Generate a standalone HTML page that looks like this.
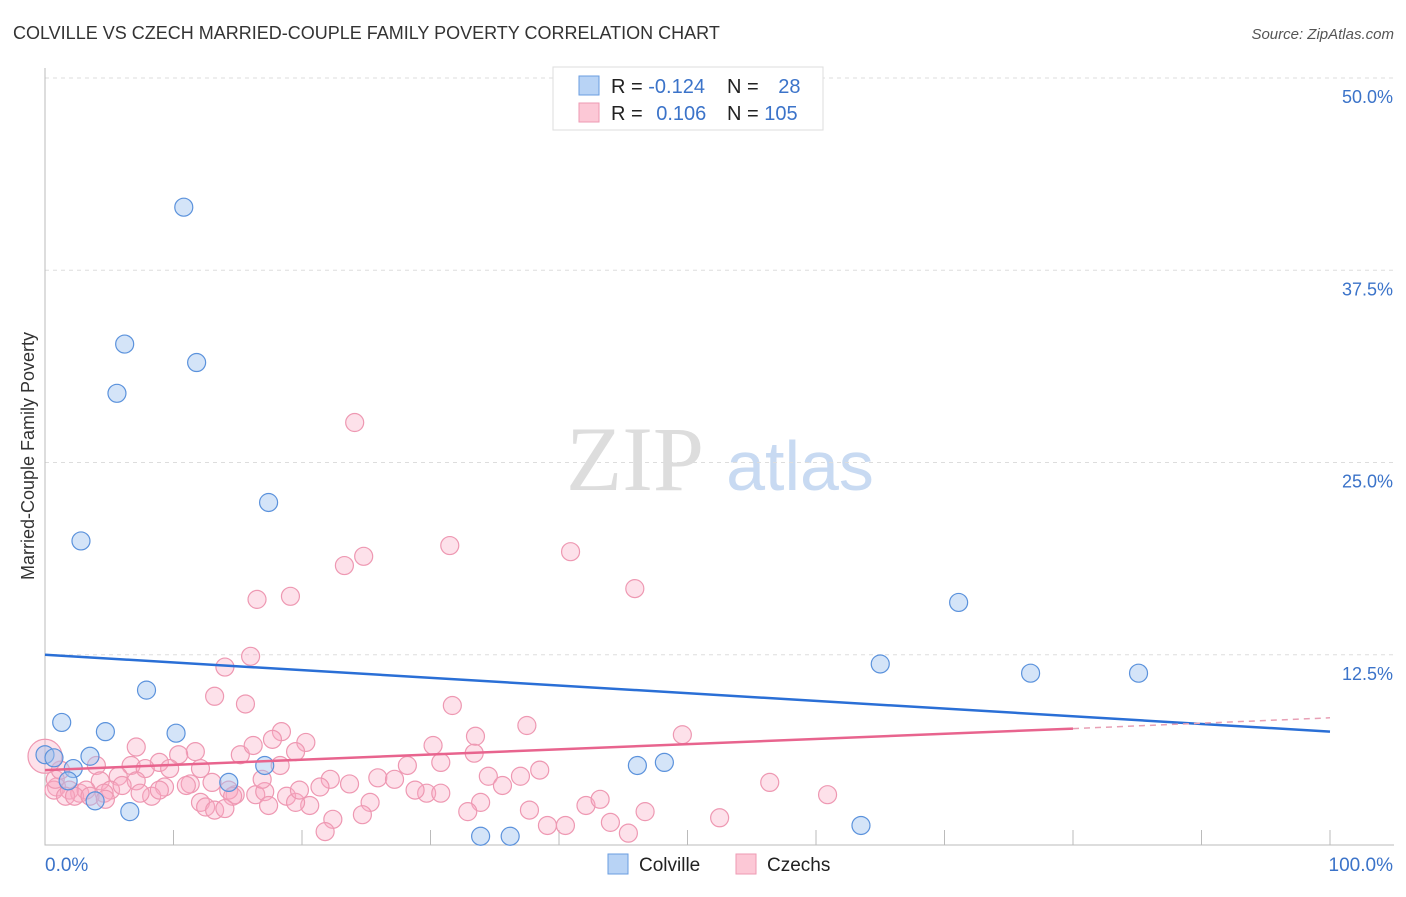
<!DOCTYPE html>
<html><head><meta charset="utf-8"><style>
body{margin:0;background:#fff;font-family:"Liberation Sans",sans-serif}
</style></head><body>
<svg width="1406" height="892" xmlns="http://www.w3.org/2000/svg" id="c">
<text x="13" y="39" font-size="18" fill="#333">COLVILLE VS CZECH MARRIED-COUPLE FAMILY POVERTY CORRELATION CHART</text>
<text x="1394" y="39" font-size="15" fill="#555" font-style="italic" text-anchor="end">Source: ZipAtlas.com</text>
<text transform="translate(34,456) rotate(-90)" font-size="18" fill="#333" text-anchor="middle">Married-Couple Family Poverty</text>
<g><text x="635" y="490" font-size="92" fill="#ddd" font-family="Liberation Serif" text-anchor="middle">ZIP</text><text x="800" y="490" font-size="70" fill="#c8daf2" text-anchor="middle">atlas</text></g>
<g id="grid"></g><g id="marks"></g>
<g>
<rect x="553" y="67" width="270" height="63" fill="#fff" stroke="#ddd"/>
<rect x="579" y="76" width="20" height="19" fill="#b8d3f5" stroke="#6a9ee0"/>
<rect x="579" y="103" width="20" height="19" fill="#fcc8d6" stroke="#ee9ab3"/>
<text x="611" y="93" font-size="20" fill="#222">R = <tspan fill="#3b73c9">-0.124</tspan></text>
<text x="727" y="93" font-size="20" fill="#222">N = <tspan fill="#3b73c9" dx="14">28</tspan></text>
<text x="611" y="120" font-size="20" fill="#222">R = <tspan fill="#3b73c9" dx="8">0.106</tspan></text>
<text x="727" y="120" font-size="20" fill="#222">N = <tspan fill="#3b73c9">105</tspan></text>
</g>
<g>
<rect x="608" y="854" width="20" height="20" fill="#b8d3f5" stroke="#6a9ee0"/>
<text x="639" y="871" font-size="19" fill="#222">Colville</text>
<rect x="736" y="854" width="20" height="20" fill="#fcc8d6" stroke="#ee9ab3"/>
<text x="767" y="871" font-size="19" fill="#222">Czechs</text>
</g>
<text x="45" y="871" font-size="19" fill="#3b73c9">0.0%</text>
<text x="1393" y="871" font-size="19" fill="#3b73c9" text-anchor="end">100.0%</text>
</svg>
<script>
const yTicks=[12.5,25,37.5,50];
const yTickLabels=["12.5%","25.0%","37.5%","50.0%"];
const xTicks=[10,20,30,40,50,60,70,80,90,100];
const colvilleX=[10.8,6.2,11.8,5.6,17.4,2.8,71.1,65.0,76.7,85.1,7.9,1.3,4.7,10.2,0,0.7,3.5,2.2,17.1,46.1,48.2,14.3,1.8,3.9,6.6,33.9,36.2,63.5];
const colvilleY=[41.6,32.7,31.5,29.5,22.4,19.9,15.9,11.9,11.3,11.3,10.2,8.1,7.5,7.4,6.0,5.8,5.9,5.1,5.3,5.3,5.5,4.2,4.3,3.0,2.3,0.7,0.7,1.4];
const czechX=[24.1,31.5,40.9,24.8,23.3,45.9,19.1,16.5,16.0,14.0,13.2,15.6,31.7,37.5,49.6,18.4,33.5,17.7,20.3,7.1,11.7,30.2,19.5,33.4,10.4,15.2,16.2,8.9,18.3,28.2,4.0,6.7,12.1,7.8,9.7,25.9,22.2,34.5,37.0,30.8,56.4,60.9,5.7,4.3,7.1,11.3,9.3,13.0,21.4,23.7,16.4,17.1,14.8,14.3,18.8,29.7,30.8,35.6,0.9,0.7,1.9,2.7,3.2,5.1,4.6,8.3,14.6,12.1,25.3,20.6,19.5,17.4,33.9,42.1,46.7,12.5,13.2,14.0,32.9,37.7,39.1,40.5,44.0,52.5,45.4,22.4,24.7,21.8,0.8,1.6,2.3,3.5,4.7,1.2,8.9,6.0,11.0,7.4,16.9,19.8,27.2,28.8,38.5,43.2,0];
const czechY=[27.6,19.6,19.2,18.9,18.3,16.8,16.3,16.1,12.4,11.7,9.8,9.3,9.2,7.9,7.3,7.5,7.2,7.0,6.8,6.5,6.2,6.6,6.2,6.1,6.0,6.0,6.6,5.5,5.3,5.3,5.3,5.3,5.1,5.1,5.1,4.5,4.4,4.6,4.6,5.5,4.2,3.4,4.6,4.3,4.3,4.1,3.9,4.2,3.9,4.1,3.4,3.6,3.4,3.7,3.3,3.5,3.5,4.0,3.9,3.7,3.7,3.5,3.7,3.7,3.5,3.3,3.3,2.9,2.9,2.7,2.9,2.7,2.9,2.7,2.3,2.6,2.4,2.5,2.3,2.4,1.4,1.4,1.6,1.9,0.9,1.8,2.1,1.0,4.4,3.3,3.3,3.3,3.1,5.0,3.7,4.0,4.0,3.5,4.4,3.7,4.4,3.7,5.0,3.1,5.9];
const blueTrend=[12.5,7.5];
const pinkTrend=[5.0,7.7,8.4];
const pinkTrendX=[0,80,100];
const X=v=>45+v*12.85, Y=v=>847-v*15.38;
const NS="http://www.w3.org/2000/svg";
function mk(t,a,p){const e=document.createElementNS(NS,t);for(const k in a)e.setAttribute(k,a[k]);p.appendChild(e);return e;}
const g=document.getElementById('grid'), m=document.getElementById('marks');
yTicks.forEach((t,i)=>{
 const l=mk('line',{x1:45,x2:1394,y1:Y(t),y2:Y(t),stroke:'#ddd','stroke-dasharray':'4,4'},g);
 
 
 const tx=mk('text',{x:1393,y:Y(t)+25,'font-size':18,fill:'#3b73c9','text-anchor':'end'},g);
 tx.textContent=yTickLabels[i];
 
 
});
const ax=mk('path',{d:'M45,68V845H1394',stroke:'#bbb',fill:'none'},g);


xTicks.forEach(t=>{
 const l=mk('line',{x1:X(t),x2:X(t),y1:830,y2:845,stroke:'#bbb'},g);
 
 
});
czechX.forEach((v,i)=>{
 const big=(i===czechX.length-1);
 const c=mk('circle',{cx:X(v),cy:Y(czechY[i]),r:big?17:9,fill:'rgba(248,170,195,0.35)',stroke:'#ee98b2','stroke-width':1.2},m);
 
 
});
colvilleX.forEach((v,i)=>{
 const c=mk('circle',{cx:X(v),cy:Y(colvilleY[i]),r:9,fill:'rgba(160,195,240,0.45)',stroke:'#5b92dc','stroke-width':1.2},m);
 
 
});
const bl=mk('line',{x1:X(0),y1:Y(blueTrend[0]),x2:X(100),y2:Y(blueTrend[1]),stroke:'#2a6fd6','stroke-width':2.5},m);


const pl=mk('line',{x1:X(pinkTrendX[0]),y1:Y(pinkTrend[0]),x2:X(pinkTrendX[1]),y2:Y(pinkTrend[1]),stroke:'#e8648e','stroke-width':2.5},m);


const pd=mk('line',{x1:X(pinkTrendX[1]),y1:Y(pinkTrend[1]),x2:X(pinkTrendX[2]),y2:Y(pinkTrend[2]),stroke:'#e8a0b5','stroke-width':1.5,'stroke-dasharray':'6,5'},m);


</script>
</body></html>
